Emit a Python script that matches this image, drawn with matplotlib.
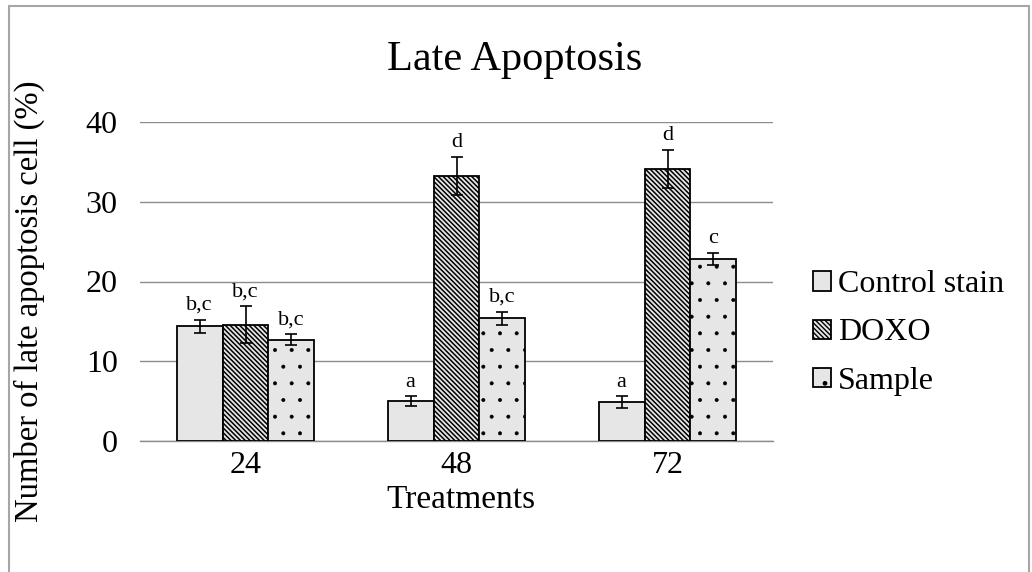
import numpy as np
import matplotlib.pyplot as plt
import matplotlib as mpl

mpl.rcParams['font.family'] = ['Liberation Serif', 'DejaVu Serif']

# --- Data ---
treatments = ["24", "48", "72"]
series = ["Control stain", "DOXO", "Sample"]
control = [14.4, 5.0, 4.9]
doxo = [14.6, 33.2, 34.1]
sample = [12.7, 15.4, 22.8]
control_err = [0.8, 0.6, 0.7]
doxo_err = [2.3, 2.4, 2.4]
sample_err = [0.7, 0.8, 0.75]
control_sig = ["b,c", "a", "a"]
doxo_sig = ["b,c", "d", "d"]
sample_sig = ["b,c", "b,c", "c"]

values = [control, doxo, sample]
errors = [control_err, doxo_err, sample_err]
sigs = [control_sig, doxo_sig, sample_sig]
hatches = [None, "\\" * 7, "."]
hatch_lw = [1.0, 1.1, 0.4]

W, H = 1032, 572
fig = plt.figure(figsize=(W / 100, H / 100), dpi=100)
ax = fig.add_axes([140 / W, 1 - 441 / H, 633 / W, 319 / H])

x = np.arange(len(treatments))
width = 0.218
fill = "#e6e6e6"

handles = []
for i, (vals, errs, lab, h) in enumerate(zip(values, errors, sigs, hatches)):
    pos = x + (i - 1) * width
    with mpl.rc_context({"hatch.linewidth": hatch_lw[i]}):
        bars = ax.bar(pos, vals, width, color=fill, edgecolor="black", linewidth=1.3,
                      hatch=h, label=series[i], zorder=3)
    for b in bars:
        if hasattr(b, "set_hatch_linewidth"):
            b.set_hatch_linewidth(hatch_lw[i])
    ax.errorbar(pos, vals, yerr=errs, fmt="none", ecolor="black", elinewidth=1.2,
                capsize=4.5, capthick=1.2, zorder=4)
    for p, v, e, t in zip(pos, vals, errs, lab):
        ax.text(p, v + e + 0.6, t, ha="center", va="bottom", fontsize=16)
    handles.append(bars)

ax.set_xlim(-0.5, 2.5)
ax.set_ylim(0, 40)
ax.set_yticks([0, 10, 20, 30, 40])
ax.set_xticks(x)
ax.set_xticklabels(treatments)
ax.tick_params(axis="y", labelsize=23, length=0, pad=16)
ax.tick_params(axis="x", labelsize=23, length=0, pad=7)
ax.yaxis.grid(True, color="#8c8c8c", linewidth=1.0, zorder=0)
ax.set_axisbelow(True)
for s in ["top", "right", "left"]:
    ax.spines[s].set_visible(False)
ax.spines["bottom"].set_color("#8c8c8c")
ax.spines["bottom"].set_linewidth(1.0)

# titles placed in figure coordinates
fig.text(515 / W, 1 - 60 / H, "Late Apoptosis", fontsize=30.5, ha="center", va="center")
fig.text(461 / W, 1 - 500 / H, "Treatments", fontsize=24, ha="center", va="center")
fig.text(29 / W, 1 - 301 / H, "Number of late apoptosis cell (%)", fontsize=23.5,
         ha="center", va="center", rotation=90)

leg = fig.legend(handles=handles, labels=series, loc="center left",
                 bbox_to_anchor=(813 / W, 1 - 333 / H), bbox_transform=fig.transFigure,
                 frameon=False, fontsize=23, handlelength=0.55, handleheight=0.55,
                 handletextpad=0.22, labelspacing=0.6, borderpad=0, borderaxespad=0)

# chart frame
fig.patches.append(plt.Rectangle((9 / W, -0.05), 1020 / W, 1.05 - 6 / H,
                                 transform=fig.transFigure, fill=False,
                                 edgecolor="#a6a6a6", linewidth=1.5))

fig.savefig("out.png", dpi=100)
